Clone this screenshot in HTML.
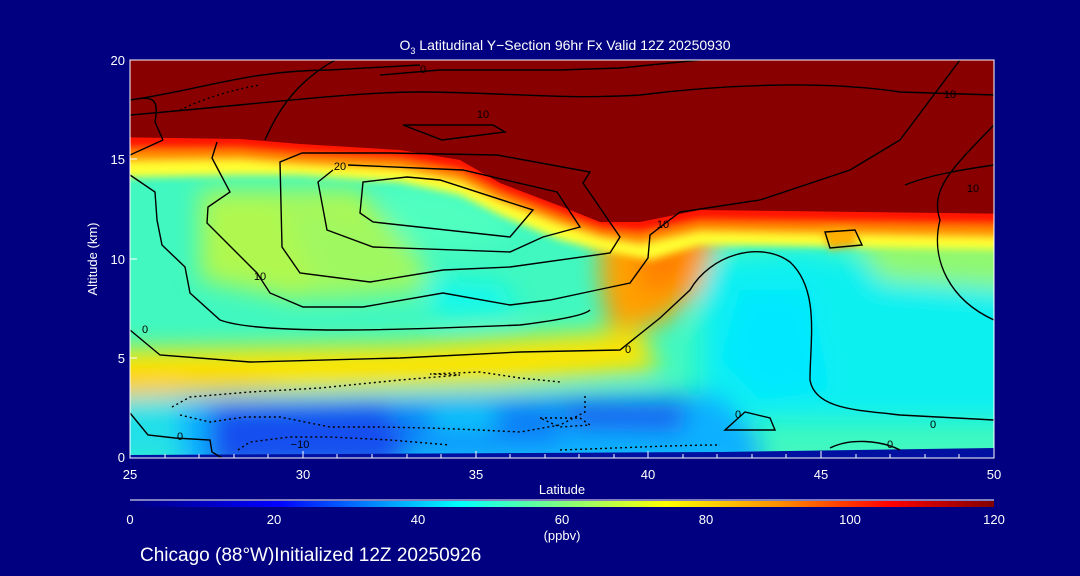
<!DOCTYPE html>
<html><head><meta charset="utf-8"><style>
html,body{margin:0;padding:0;background:#000080;}
svg{display:block;font-family:"Liberation Sans",sans-serif;}
</style></head><body>
<svg width="1080" height="576" viewBox="0 0 1080 576">
<defs>
<clipPath id="pc"><rect x="130" y="60" width="864" height="398"/></clipPath>
<filter id="b1" x="-30%" y="-30%" width="160%" height="160%"><feGaussianBlur stdDeviation="12"/></filter>
<filter id="b2" x="-20%" y="-20%" width="140%" height="140%"><feGaussianBlur stdDeviation="4"/></filter>
<linearGradient id="cb" x1="0" x2="1" y1="0" y2="0">
<stop offset="0" stop-color="#000080"/><stop offset="0.17" stop-color="#0000ff"/>
<stop offset="0.38" stop-color="#00ffff"/><stop offset="0.5" stop-color="#80ff80"/>
<stop offset="0.62" stop-color="#ffff00"/><stop offset="0.75" stop-color="#ff9000"/>
<stop offset="0.88" stop-color="#ff0000"/><stop offset="1" stop-color="#800000"/>
</linearGradient>
</defs>
<g clip-path="url(#pc)">
<rect x="100" y="40" width="920" height="440" fill="#40f8c0"/>
<g filter="url(#b1)">
<polygon points="200,190 360,190 420,260 300,300 200,280" fill="#b0f850"/>
<polygon points="280,200 400,230 440,290 320,300" fill="#a0f860"/>
<polygon points="380,180 460,190 520,230 460,250 400,240" fill="#50ffc0"/>
<polygon points="420,280 500,285 520,310 440,315" fill="#10f8f0"/>
<polygon points="700,260 800,250 900,270 1020,290 1020,420 700,420" fill="#10f0f0"/>
<polygon points="740,290 810,290 830,390 760,400 720,360" fill="#00e8ff"/>
<polygon points="850,230 1020,230 1020,290 880,280" fill="#90f870"/>
<polygon points="100,350 400,345 640,330 660,370 500,385 250,392 100,398" fill="#ffe400"/>
<polygon points="100,378 250,380 300,388 100,392" fill="#ffb800"/>
<polygon points="100,398 180,395 185,460 100,460" fill="#20e0e8"/>
<polygon points="180,400 720,394 760,440 760,470 180,470" fill="#10b0ff"/>
<polygon points="210,405 390,403 410,450 390,470 210,470" fill="#1850f0"/>
<polygon points="400,405 560,400 560,445 400,445" fill="#1080f8"/>
<polygon points="425,414 495,412 495,428 435,428" fill="#10e0ff"/>
<polygon points="560,400 690,402 680,432 570,430" fill="#1860f0"/>
<polygon points="600,215 720,225 700,290 660,325 610,330 600,280" fill="#ffa000"/>
<polygon points="630,230 700,232 680,285 645,295" fill="#ff8000"/>
</g>
<g filter="url(#b2)">
<polygon points="100,40 1020,40 1020,250 700,245 650,260 600,250 560,240 500,215 460,195 400,182 300,175 240,175 100,178" fill="#ffff30"/>
<polygon points="100,40 1020,40 1020,238 700,232 640,245 600,238 560,225 500,202 460,182 400,170 300,165 240,160 100,162" fill="#ff9000"/>
<polygon points="100,40 1020,40 1020,226 700,222 640,234 600,230 560,216 500,193 460,172 400,160 300,155 240,150 100,150" fill="#ff1800"/>
<polygon points="820,230 850,228 860,245 830,250" fill="#ffb000"/>
</g>
<polygon points="100,40 1020,40 1020,214 700,210 640,222 600,222 560,206 500,183 460,160 400,150 300,144 240,139 100,137" fill="#880000"/>
<polygon points="130,455 720,452 994,448 994,460 130,460" fill="#0010a0"/>
<g fill="none" stroke="#000" stroke-width="1.4">
<path d="M335,60 C300,80 280,105 265,140 M163,140 L130,155"/>
<path d="M130,100 C150,97 160,95 155,122 L163,140"/>
<path d="M130,175 L155,192 L157,220 L162,245 L185,267 L190,293 L220,320 C260,335 400,330 520,325 C560,320 585,315 590,310"/>
<path d="M217,142 L212,158 L230,192 L208,207 L207,223 L257,273 L270,293 L303,307 L363,307 L443,293 L510,305 L550,300 L597,290 L630,283 L648,258 L650,235 L680,212 L760,200 L850,170 L900,140 L960,60"/>
<path d="M302,153 L280,162 L282,247 L300,273 L370,282 L443,270 L510,267 L610,253 L620,237 L583,183 L590,172 L497,155 L390,153 Z"/>
<path d="M348,165 L463,170 L557,192 L580,227 L543,237 L510,252 L373,247 L327,230 L318,182 L333,170"/>
<path d="M363,182 L360,213 L373,222 L510,237 L533,210 L440,180 L407,177 Z"/>
<path d="M403,125 L442,140 L505,132 L493,125 Z"/>
<path d="M130,100 C200,90 250,70 330,70 L420,65"/>
<path d="M380,75 L440,70 L560,70 L620,68 L700,60"/>
<path d="M130,115 C250,105 350,92 420,92 C500,92 560,100 640,95 C720,85 820,80 900,92 L994,95"/>
<path d="M130,330 L160,355 L250,362 L400,358 L520,352 L620,350 L660,318 L690,290 C710,255 760,240 790,262 C820,290 810,340 810,380 C815,410 860,410 900,415 L994,420"/>
<path d="M994,320 C950,300 930,260 940,220 C930,190 950,170 994,125"/>
<path d="M905,185 C930,175 960,170 994,165"/>
<path d="M825,232 L855,230 L862,245 L830,248 Z"/>
<path d="M725,430 L745,412 L770,418 L775,430 Z"/>
<path d="M830,448 C850,438 880,440 900,450"/>
<path d="M130,413 L148,435 L175,438 L210,440 L212,452 L222,458"/>
<path d="M172,407 L190,397 L250,392 L320,388 L400,380 L460,375 L430,374 L480,372 L520,378 L560,382" stroke-dasharray="2,3"/>
<path d="M180,415 L210,422 L245,417 L280,417 L330,427 L380,427 L430,428 L480,430 L520,432 L560,425 L585,412 L585,395" stroke-dasharray="2,3"/>
<path d="M238,450 L250,442 L290,437 L330,437 L390,440 L450,445" stroke-dasharray="2,3"/>
<path d="M540,418 L580,418 L590,425 L560,427 Z" stroke-dasharray="2,3"/>
<path d="M560,450 C620,448 680,445 720,445" stroke-dasharray="2,3"/>
<path d="M180,110 C200,100 230,90 260,85" stroke-dasharray="2,3"/>
</g>
<g font-size="11" fill="#000" text-anchor="middle">
<text x="423" y="73">0</text><text x="483" y="118">10</text><text x="340" y="170">20</text>
<text x="260" y="280">10</text><text x="145" y="333">0</text><text x="628" y="353">0</text>
<text x="663" y="228">10</text><text x="950" y="98">10</text><text x="973" y="192">10</text>
<text x="933" y="428">0</text><text x="738" y="418">0</text><text x="890" y="448">0</text>
<text x="180" y="440">0</text><text x="300" y="448">−10</text>
</g>
</g>
<rect x="130" y="60" width="864" height="398" fill="none" stroke="#fff" stroke-width="1"/>
<g stroke="#fff" stroke-width="1">
<line x1="130" y1="458" x2="994" y2="458"/>
<path d="M165,458v-4M199,458v-4M234,458v-4M268,458v-4M337,458v-4M372,458v-4M407,458v-4M441,458v-4M510,458v-4M545,458v-4M579,458v-4M614,458v-4M683,458v-4M717,458v-4M752,458v-4M786,458v-4M856,458v-4M890,458v-4M925,458v-4M959,458v-4M303,458v-7M476,458v-7M648,458v-7M821,458v-7"/>
<path d="M130,358h7M130,259h7M130,159h7"/>
<line x1="130" y1="500" x2="994" y2="500"/>
</g>
<rect x="130" y="501" width="864" height="6" fill="url(#cb)"/>
<g fill="#fff" font-size="13">
<text x="565" y="50" text-anchor="middle" font-size="14">O<tspan font-size="9" dy="4">3</tspan><tspan dy="-4"> Latitudinal Y−Section 96hr  Fx Valid 12Z 20250930</tspan></text>
<g text-anchor="end"><text x="125" y="65">20</text><text x="125" y="164">15</text><text x="125" y="264">10</text><text x="125" y="363">5</text><text x="125" y="462">0</text></g>
<g text-anchor="middle"><text x="130" y="479">25</text><text x="303" y="479">30</text><text x="476" y="479">35</text><text x="648" y="479">40</text><text x="821" y="479">45</text><text x="994" y="479">50</text>
<text x="562" y="494">Latitude</text>
<text x="130" y="524">0</text><text x="274" y="524">20</text><text x="418" y="524">40</text><text x="562" y="524">60</text><text x="706" y="524">80</text><text x="850" y="524">100</text><text x="994" y="524">120</text>
<text x="562" y="540">(ppbv)</text></g>
<text x="97" y="259" transform="rotate(-90 97 259)" text-anchor="middle">Altitude (km)</text>
<text x="140" y="561" font-size="19">Chicago (88°W)Initialized 12Z 20250926</text>
</g>
</svg>
</body></html>
